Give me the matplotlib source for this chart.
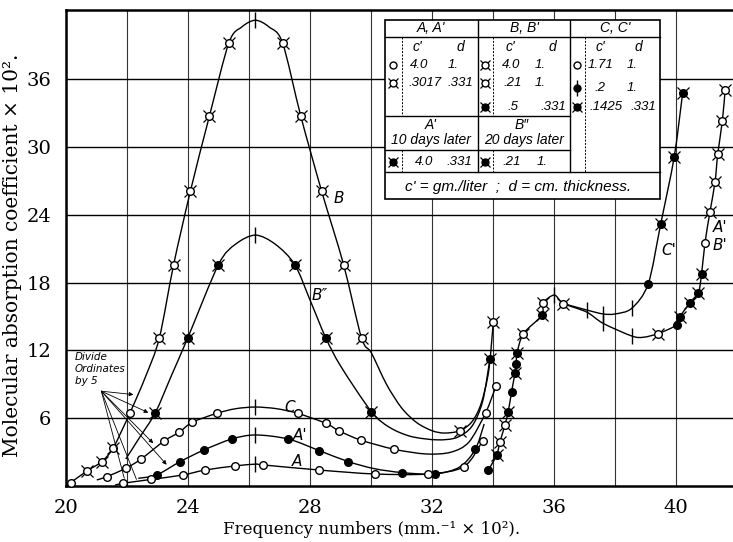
import matplotlib
matplotlib.use("Agg")
import matplotlib.pyplot as plt
from matplotlib.patches import Rectangle, PathPatch
from matplotlib.path import Path

# ---------------- data ----------------
# marker codes: o open circle, q open circle with tails, f filled circle,
#               g filled circle with tails, | vertical tick, - no marker
B_x = [20.14, 20.69, 21.16, 21.54, 22.09, 22.60, 23.05, 23.52, 24.07, 24.69,
       25.33, 25.75, 26.20, 26.65, 27.09, 27.69, 28.37, 29.09, 29.68, 30.00,
       30.50, 31.00, 31.50, 32.00, 32.40, 32.90, 33.30, 33.60, 33.85, 34.00]
B_y = [0.31, 1.37, 2.17, 3.40, 6.50, 9.70, 13.10, 19.60, 26.10, 32.70,
       39.20, 40.60, 41.20, 40.60, 39.20, 32.70, 26.10, 19.60, 13.10, 11.80,
       9.00, 6.90, 5.60, 4.90, 4.70, 4.90, 5.70, 7.30, 10.20, 14.50]
B_m = "oqqqo-qqqqq-|-qqqqq------q---q"

B2_x = [21.95, 22.40, 22.92, 23.45, 23.98, 24.99, 25.55, 26.20, 26.85, 27.49,
        28.00, 28.51, 29.00, 30.00, 30.60, 31.30, 32.15, 32.80, 33.30, 33.65, 33.89]
B2_y = [2.40, 4.30, 6.50, 9.80, 13.10, 19.60, 21.40, 22.20, 21.40, 19.60,
        16.40, 13.10, 10.60, 6.60, 5.20, 4.40, 4.10, 4.30, 5.30, 7.50, 11.25]
B2_m = "--g-gg-|-g-g-g------g"

C_x = [21.00, 21.32, 21.95, 22.45, 23.21, 23.70, 24.13, 24.93, 25.55, 26.20,
       26.90, 27.59, 28.51, 28.95, 29.65, 30.76, 31.80, 32.60, 33.20, 33.75, 34.09]
C_y = [0.55, 0.84, 1.58, 2.40, 4.00, 4.77, 5.65, 6.44, 6.85, 7.00,
       6.85, 6.44, 5.56, 4.88, 4.08, 3.26, 2.85, 3.00, 3.90, 6.50, 8.86]
C_m = "-ooooooo-|-ooooo---oo"

A2_x = [22.36, 22.96, 23.73, 24.51, 25.42, 26.20, 27.28, 28.30, 29.25, 30.10,
        31.02, 32.09, 32.90, 33.41, 33.70]
A2_y = [0.70, 0.99, 2.17, 3.20, 4.17, 4.53, 4.17, 3.14, 2.17, 1.55,
        1.20, 1.08, 1.70, 3.26, 5.50]
A2_m = "-ffff|fff-ff-f-"

A_x = [21.60, 21.87, 22.78, 23.82, 24.55, 25.53, 26.20, 26.46, 28.29, 30.12,
       31.87, 33.04, 33.65]
A_y = [0.10, 0.26, 0.60, 0.99, 1.43, 1.79, 1.95, 1.88, 1.43, 1.08,
       1.08, 1.73, 4.00]
A_m = "-ooooo|oooooo"

ABp_x = [33.84, 34.11, 34.22, 34.38, 34.49, 34.60, 34.71, 34.75, 34.78, 34.99,
         35.59, 35.64, 36.00, 36.30, 37.06, 37.60, 38.54, 38.92, 39.41, 40.01,
         40.12, 40.45, 40.72, 40.83, 40.94, 41.10, 41.27, 41.36, 41.51, 41.60]
ABp_y = [1.43, 2.76, 3.93, 5.40, 6.60, 8.36, 10.00, 10.80, 11.80, 13.50,
         15.10, 16.20, 16.90, 16.15, 15.40, 14.40, 13.28, 13.17, 13.50, 14.25,
         15.00, 16.20, 17.05, 18.80, 21.50, 24.20, 26.90, 29.40, 32.30, 35.00]
ABp_m = "fgqqgfgfgqgq|q-||-qfggggoqqqqq"

Cp_x = [36.30, 37.06, 37.60, 37.99, 38.54, 39.08, 39.49, 39.93, 40.21]
Cp_y = [16.15, 15.58, 15.23, 15.23, 15.73, 17.90, 23.20, 29.10, 34.80]
Cp_m = "-||-|fggg"

x_ticks = [20, 24, 28, 32, 36, 40]
x_grid = [22, 26, 30, 34, 38]
y_ticks = [6, 12, 18, 24, 30, 36]

# ---------------- figure ----------------
W, H = 733, 542
fig = plt.figure(figsize=(W / 100, H / 100), dpi=100)
fig.patch.set_facecolor("white")

L, R, T, Bt = 66.3, 733, 10, 486.2
ax = fig.add_axes([L / W, 1 - Bt / H, (R - L) / W, (Bt - T) / H])
ax.set_xlim(20, 20 + (R - L) / 30.5)
ax.set_ylim(0, (Bt - T) / 11.31)

ax.set_xticks(x_ticks)
ax.set_xticks(x_grid, minor=True)
ax.set_yticks(y_ticks)
ax.set_xticklabels([str(v) for v in x_ticks], family="DejaVu Serif", fontsize=14)
ax.set_yticklabels([str(v) for v in y_ticks], family="DejaVu Serif", fontsize=14)
ax.tick_params(axis="both", which="both", length=0)
ax.tick_params(axis="x", pad=9)
ax.tick_params(axis="y", pad=11)
ax.grid(axis="x", which="both", color="#333333", lw=0.8)
ax.grid(axis="y", which="major", color="black", lw=1.0)
ax.set_axisbelow(True)
for s in ("left", "top", "bottom"):
    ax.spines[s].set_linewidth(1.8)
ax.spines["right"].set_visible(False)


def smooth_path(xs, ys, k=0.9):
    pts = list(zip(xs, ys))
    n = len(pts)
    verts = [pts[0]]
    codes = [Path.MOVETO]
    for i in range(n - 1):
        p0 = pts[i - 1] if i > 0 else pts[i]
        p1 = pts[i]
        p2 = pts[i + 1]
        p3 = pts[i + 2] if i + 2 < n else pts[i + 1]
        c1 = (p1[0] + (p2[0] - p0[0]) * k / 6, p1[1] + (p2[1] - p0[1]) * k / 6)
        c2 = (p2[0] - (p3[0] - p1[0]) * k / 6, p2[1] - (p3[1] - p1[1]) * k / 6)
        verts += [c1, c2, p2]
        codes += [Path.CURVE4] * 3
    return Path(verts, codes)


def draw_marks(a, xs, ys, codes, z=4, ms=5.5):
    for code in "oqfg|":
        sel = [i for i, c in enumerate(codes) if c == code]
        if not sel:
            continue
        mx = [xs[i] for i in sel]
        my = [ys[i] for i in sel]
        if code in "qg":
            a.plot(mx, my, ls="none", marker="x", ms=ms * 1.55, mew=0.9,
                   color="black", zorder=z, clip_on=False)
        if code in "oq":
            a.plot(mx, my, ls="none", marker="o", ms=ms, mfc="white",
                   mec="black", mew=1.0, zorder=z + 0.5, clip_on=False)
        if code in "fg":
            a.plot(mx, my, ls="none", marker="o", ms=ms, mfc="black",
                   mec="black", mew=1.0, zorder=z + 0.5, clip_on=False)
        if code == "|":
            a.plot(mx, my, ls="none", marker="|", ms=12, mew=1.0,
                   color="black", zorder=z, clip_on=False)


for xs, ys, ms_ in [(B_x, B_y, B_m), (B2_x, B2_y, B2_m), (C_x, C_y, C_m),
                    (A2_x, A2_y, A2_m), (A_x, A_y, A_m), (ABp_x, ABp_y, ABp_m),
                    (Cp_x, Cp_y, Cp_m)]:
    ax.add_patch(PathPatch(smooth_path(xs, ys), fill=False, ec="black", lw=1.0, zorder=3))
    draw_marks(ax, xs, ys, ms_)

# curve labels
lab = dict(style="italic", family="DejaVu Sans", fontsize=11, color="black", zorder=6)
ax.text(28.92, 25.45, "B", ha="center", va="center", **lab)
ax.text(28.32, 16.9, "B\u2033", ha="center", va="center", **lab)
ax.text(27.33, 7.0, "C", ha="center", va="center", **lab)
ax.text(27.66, 4.44, "A'", ha="center", va="center", **lab)
ax.text(27.55, 2.17, "A", ha="center", va="center", **lab)
ax.text(39.77, 20.8, "C'", ha="center", va="center", **lab)
ax.text(41.45, 22.9, "A'", ha="center", va="center", **lab)
ax.text(41.42, 21.3, "B'", ha="center", va="center", **lab)

# "Divide Ordinates by 5" note
ax.text(20.28, 11.9, "Divide\nOrdinates\nby 5", ha="left", va="top",
        style="italic", family="DejaVu Sans", fontsize=7.5, linespacing=1.25, zorder=6)
src = (21.15, 8.4)
for tgt, sty in [((22.2, 8.1), "-|>"), ((22.69, 6.5), "-|>"), ((22.85, 3.8), "-|>"),
                 ((23.29, 1.9), "-|>"), ((21.9, 0.7), "-"), ((22.3, 0.6), "-")]:
    ax.annotate("", xy=tgt, xytext=src,
                arrowprops=dict(arrowstyle=sty, lw=0.6, color="black",
                                mutation_scale=6, shrinkA=0, shrinkB=0), zorder=6)

# axis titles
fig.text(372 / W, 1 - 529 / H, "Frequency numbers (mm.\u207b\u00b9 \u00d7 10\u00b2).",
         ha="center", va="center", family="DejaVu Serif", fontsize=12)
fig.text(13 / W, 1 - 255 / H, "Molecular absorption coefficient \u00d7 10\u00b2.",
         ha="center", va="center", rotation=90, family="DejaVu Serif", fontsize=14.5)

# ---------------- legend table (overlay in pixel units) ----------------
ov = fig.add_axes([0, 0, 1, 1], zorder=10)
ov.set_xlim(0, W)
ov.set_ylim(H, 0)
ov.axis("off")
ov.patch.set_alpha(0)

ov.add_patch(Rectangle((385, 20), 275, 179, facecolor="white", edgecolor="black", lw=1.2))
solid = dict(color="black", lw=1.0)
dot = dict(color="black", lw=0.7, ls=(0, (2, 1.5)))
ov.plot([385, 660], [37, 37], **solid)
ov.plot([385, 660], [172, 172], **solid)
ov.plot([385, 570], [116, 116], **solid)
ov.plot([385, 570], [150, 150], **solid)
ov.plot([478, 478], [20, 172], **solid)
ov.plot([570, 570], [20, 172], **solid)
for xx in (402, 493):
    ov.plot([xx, xx], [37, 116], **dot)
    ov.plot([xx, xx], [150, 172], **dot)
ov.plot([585, 585], [37, 172], **dot)

tt = dict(style="italic", family="Liberation Sans", fontsize=10, ha="center", va="center")
tv = dict(tt, fontsize=9.5)
ov.text(431, 28, "A, A'", **tt)
ov.text(524, 28, "B, B'", **tt)
ov.text(615, 28, "C, C'", **tt)
for cx, dx in ((417, 460), (510, 552), (600, 638)):
    ov.text(cx, 47, "c'", **tt)
    ov.text(dx, 47, "d", **tt)

# column A, A'
ov.text(419, 65, "4.0", **tv); ov.text(453, 65, "1.", **tv)
ov.text(425, 83, ".3017", **tv); ov.text(460, 83, ".331", **tv)
# column B, B'
ov.text(511, 65, "4.0", **tv); ov.text(540, 65, "1.", **tv)
ov.text(513, 83, ".21", **tv); ov.text(540, 83, "1.", **tv)
ov.text(513, 107, ".5", **tv); ov.text(553, 107, ".331", **tv)
# column C, C'
ov.text(601, 65, "1.71", **tv); ov.text(632, 65, "1.", **tv)
ov.text(600, 88, ".2", **tv); ov.text(632, 88, "1.", **tv)
ov.text(606, 107, ".1425", **tv); ov.text(643, 107, ".331", **tv)
# later rows
ov.text(431, 125, "A'", **tt)
ov.text(431, 140, "10 days later", **tt)
ov.text(522, 125, "B\u2033", **tt)
ov.text(524, 140, "20 days later", **tt)
ov.text(424, 162, "4.0", **tv); ov.text(459, 162, ".331", **tv)
ov.text(512, 162, ".21", **tv); ov.text(542, 162, "1.", **tv)
ov.text(518, 187, "c' = gm./liter  ;  d = cm. thickness.", **dict(tt, fontsize=11))

leg_x = [393, 393, 485, 485, 485, 577, 577, 577, 393, 485]
leg_y = [65, 83, 65, 83, 107, 65, 88, 107, 162, 162]
leg_m = "oqqqgofggg"
draw_marks(ov, leg_x, leg_y, leg_m, z=11, ms=5)
draw_marks(ov, [577], [88], "|", z=11)

fig.savefig("out.png", dpi=100, facecolor="white")
